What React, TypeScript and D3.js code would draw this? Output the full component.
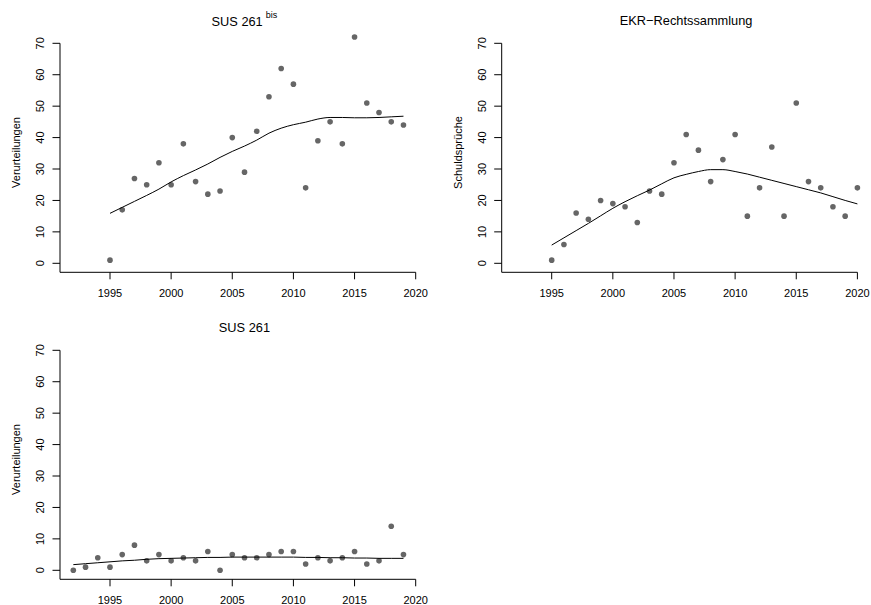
import React from "react";
import * as d3 from "d3";

// ---------- Data ----------
const yearsSus261bis = [1995,1996,1997,1998,1999,2000,2001,2002,2003,2004,2005,2006,2007,2008,2009,2010,2011,2012,2013,2014,2015,2016,2017,2018,2019];
const valuesSus261bis = [1,17,27,25,32,25,38,26,22,23,40,29,42,53,62,57,24,39,45,38,72,51,48,45,44];
const smoothSus261bis = [15.9,17.8,19.7,21.6,23.6,25.9,27.9,29.7,31.6,33.7,35.6,37.3,39.2,41.4,43.0,44.1,44.9,45.9,46.4,46.4,46.3,46.3,46.4,46.6,46.8];

const yearsEkr = [1995,1996,1997,1998,1999,2000,2001,2002,2003,2004,2005,2006,2007,2008,2009,2010,2011,2012,2013,2014,2015,2016,2017,2018,2019,2020];
const valuesEkr = [1,6,16,14,20,19,18,13,23,22,32,41,36,26,33,41,15,24,37,15,51,26,24,18,15,24];
const smoothEkr = [5.8,8.1,10.4,12.7,15.1,17.5,19.6,21.5,23.3,25.3,27.2,28.3,29.2,29.8,29.8,29.2,28.4,27.4,26.4,25.4,24.4,23.4,22.4,21.2,20.0,18.9];

const yearsSus261 = [1992,1993,1994,1995,1996,1997,1998,1999,2000,2001,2002,2003,2004,2005,2006,2007,2008,2009,2010,2011,2012,2013,2014,2015,2016,2017,2018,2019];
const valuesSus261 = [0,1,4,1,5,8,3,5,3,4,3,6,0,5,4,4,5,6,6,2,4,3,4,6,2,3,14,5];
const smoothSus261 = [1.8,2.1,2.4,2.7,3.0,3.2,3.5,3.7,3.8,3.9,4.0,4.1,4.1,4.2,4.2,4.2,4.2,4.2,4.2,4.1,4.1,4.0,4.0,3.9,3.9,3.8,3.8,3.8];

const xTickValues = [1995, 2000, 2005, 2010, 2015, 2020];
const yTickValues = [0, 10, 20, 30, 40, 50, 60, 70];

const FONT = "'Liberation Sans', Arial, Helvetica, sans-serif";

type PanelProps = {
  ox: number;
  oy: number;
  title: string;
  sup?: string;
  ylabel: string;
  years: number[];
  values: number[];
  smooth: number[];
};

function Panel({ ox, oy, title, sup, ylabel, years, values, smooth }: PanelProps) {
  const x = d3.scaleLinear().domain([1995, 2020]).range([ox + 110, ox + 415.7]);
  const y = d3.scaleLinear().domain([0, 70]).range([oy + 263.3, oy + 43.3]);
  const axisY = y.range()[0] + 9;
  const axisX = ox + 60;
  const line = d3
    .line<number>()
    .x((_, i) => x(years[i]))
    .y((d) => y(d))
    .curve(d3.curveMonotoneX);

  return (
    <g>
      {/* title */}
      <text
        x={ox + 244.4}
        y={oy + (sup ? 26 : 25)}
        textAnchor="middle"
        fontSize={12.8}
        fontFamily={FONT}
        fill="#000"
      >
        <tspan>{title}</tspan>
        {sup ? (
          <tspan dx={3} dy={-7.7} fontSize={9}>
            {sup}
          </tspan>
        ) : null}
      </text>
      {/* y label */}
      <text
        transform={`translate(${ox + 20},${oy + 152.5}) rotate(-90)`}
        textAnchor="middle"
        fontSize={11}
        fontFamily={FONT}
        fill="#000"
      >
        {ylabel}
      </text>
      {/* axes lines (L box) */}
      <path
        d={`M${axisX},${y(70)}V${axisY}H${x(2020)}`}
        fill="none"
        stroke="#000"
        strokeWidth={1}
      />
      {/* y ticks */}
      {yTickValues.map((t) => (
        <g key={"y" + t}>
          <line x1={axisX - 7.5} x2={axisX} y1={y(t)} y2={y(t)} stroke="#000" strokeWidth={1} />
          <text
            transform={`translate(${ox + 44.3},${y(t)}) rotate(-90)`}
            textAnchor="middle"
            fontSize={11}
            fontFamily={FONT}
            fill="#000"
          >
            {t}
          </text>
        </g>
      ))}
      {/* x ticks */}
      {xTickValues.map((t) => (
        <g key={"x" + t}>
          <line x1={x(t)} x2={x(t)} y1={axisY} y2={axisY + 7} stroke="#000" strokeWidth={1} />
          <text
            x={x(t)}
            y={axisY + 24.5}
            textAnchor="middle"
            fontSize={11}
            fontFamily={FONT}
            fill="#000"
          >
            {t}
          </text>
        </g>
      ))}
      {/* points */}
      {values.map((v, i) => (
        <circle key={"p" + i} cx={x(years[i])} cy={y(v)} r={2.8} fill="#666666" />
      ))}
      {/* smooth line */}
      <path d={line(smooth) || ""} fill="none" stroke="#000" strokeWidth={1} />
    </g>
  );
}

export default function App() {
  return (
    <svg
      width={871}
      height={605}
      style={{ position: "absolute", left: 0, top: 0, background: "#fff" }}
    >
      <rect x={0} y={0} width={871} height={605} fill="#fff" />
      <Panel
        ox={0}
        oy={0}
        title="SUS 261"
        sup="bis"
        ylabel="Verurteilungen"
        years={yearsSus261bis}
        values={valuesSus261bis}
        smooth={smoothSus261bis}
      />
      <Panel
        ox={441.7}
        oy={0}
        title="EKR−Rechtssammlung"
        ylabel="Schuldsprüche"
        years={yearsEkr}
        values={valuesEkr}
        smooth={smoothEkr}
      />
      <Panel
        ox={0}
        oy={307}
        title="SUS 261"
        ylabel="Verurteilungen"
        years={yearsSus261}
        values={valuesSus261}
        smooth={smoothSus261}
      />
    </svg>
  );
}
